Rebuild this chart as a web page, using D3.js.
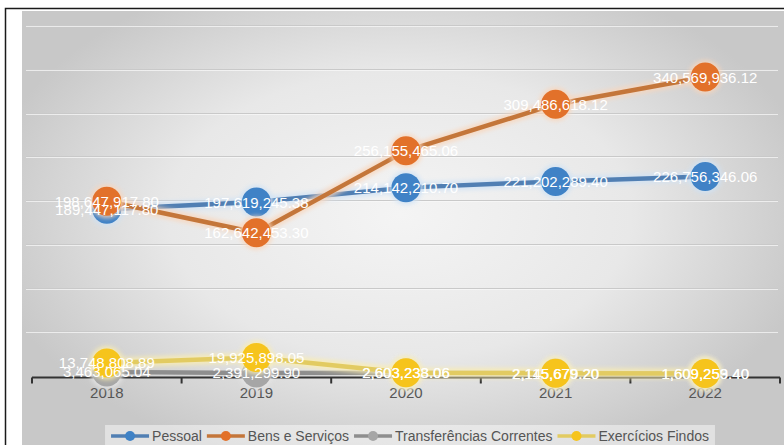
<!DOCTYPE html>
<html>
<head>
<meta charset="utf-8">
<script src="https://cdn.jsdelivr.net/npm/d3@7/dist/d3.min.js"></script>
<style>
  html, body { margin: 0; padding: 0; background: #ffffff; }
  svg { display: block; }
</style>
</head>
<body>
<svg id="chart" width="784" height="445"></svg>
<script>
// Expenditure by category, 2018–2022
const years = ["2018", "2019", "2020", "2021", "2022"];
const pessoal = [189447117.80, 197619245.38, 214142210.70, 221202289.40, 226756346.06];
const bensServicos = [198647917.80, 162642453.30, 256155465.06, 309486618.12, 340569936.12];
const transferencias = [3463065.04, 2391299.90, 2603238.06, 2145679.20, 1609253.40];
const exercicios = [13748808.89, 19925898.05, 2603233.06, 2115679.20, 1609259.40];
const seriesNames = ["Pessoal", "Bens e Serviços", "Transferências Correntes", "Exercícios Findos"];
const gridValues = [50e6, 100e6, 150e6, 200e6, 250e6, 300e6, 350e6, 400e6];

const series = [
  { name: seriesNames[0], values: pessoal,        marker: "#3f82c6", line: "#517fb3", glow: "#cfe2f5" },
  { name: seriesNames[1], values: bensServicos,   marker: "#e2712a", line: "#c4763a", glow: "#f9d6bb" },
  { name: seriesNames[2], values: transferencias, marker: "#a6a6a6", line: "#8e8e8e", glow: "#e6e6e6" },
  { name: seriesNames[3], values: exercicios,     marker: "#f6c41c", line: "#e2cb62", glow: "#fbeeb0" }
];

const svg = d3.select("#chart");
const W = 784, H = 445;
const fmt = d3.format(",.2f");

const x = d3.scaleBand().domain(years).range([32, 780]);
const cx = d => x(d) + x.bandwidth() / 2;
const y = d3.scaleLinear().domain([0, 400e6]).range([375, 25]);

const defs = svg.append("defs");
const bg = defs.append("radialGradient")
  .attr("id", "bgGrad")
  .attr("gradientUnits", "userSpaceOnUse")
  .attr("cx", 400).attr("cy", 215).attr("r", 420)
  .attr("gradientTransform", "translate(400,215) scale(1,0.62) translate(-400,-215)");
bg.append("stop").attr("offset", "0%").attr("stop-color", "#f4f4f4");
bg.append("stop").attr("offset", "55%").attr("stop-color", "#e8e8e8");
bg.append("stop").attr("offset", "100%").attr("stop-color", "#c8c8c8");

const glow = defs.append("filter").attr("id", "glow")
  .attr("x", "-20%").attr("y", "-50%").attr("width", "140%").attr("height", "200%");
glow.append("feGaussianBlur").attr("stdDeviation", 2.2);

const soft = defs.append("filter").attr("id", "soft")
  .attr("x", "-10%").attr("y", "-10%").attr("width", "120%").attr("height", "120%");
soft.append("feGaussianBlur").attr("stdDeviation", 0.5);

// chart frame and shaded background
svg.append("rect").attr("x", 0).attr("y", 0).attr("width", W).attr("height", H).attr("fill", "#ffffff");
svg.append("rect").attr("x", 22).attr("y", 11).attr("width", W - 22).attr("height", H - 11)
  .attr("fill", "url(#bgGrad)");
svg.append("path")
  .attr("d", `M5.5,${H}V8.5H${W}`)
  .attr("fill", "none").attr("stroke", "#1a1a1a").attr("stroke-width", 1.5);

// gridlines
const grid = svg.append("g");
grid.selectAll("line.g").data(gridValues).join("line")
  .attr("class", "g")
  .attr("x1", 26).attr("x2", 778)
  .attr("y1", d => Math.round(y(d)) + 0.5).attr("y2", d => Math.round(y(d)) + 0.5)
  .attr("stroke", "#c9c9c9").attr("stroke-width", 1);
grid.selectAll("line.h").data(gridValues).join("line")
  .attr("class", "h")
  .attr("x1", 26).attr("x2", 778)
  .attr("y1", d => Math.round(y(d)) + 1.5).attr("y2", d => Math.round(y(d)) + 1.5)
  .attr("stroke", "#fafafa").attr("stroke-opacity", 0.7).attr("stroke-width", 1);

// category axis: line with ticks between categories
const axisY = Math.round(y(0)) + 2.5;
const bounds = years.map(d => x(d)).concat([x.range()[1]]);
const axisG = svg.append("g");
axisG.append("line")
  .attr("x1", bounds[0]).attr("x2", bounds[bounds.length - 1])
  .attr("y1", axisY).attr("y2", axisY)
  .attr("stroke", "#333333").attr("stroke-width", 2);
axisG.selectAll("line.tick").data(bounds).join("line")
  .attr("class", "tick")
  .attr("x1", d => d).attr("x2", d => d)
  .attr("y1", axisY).attr("y2", axisY + 6)
  .attr("stroke", "#333333").attr("stroke-width", 2);

const xAxis = svg.append("g")
  .attr("transform", `translate(0,${axisY + 6})`)
  .call(d3.axisBottom(x).tickSize(0).tickPadding(4));
xAxis.select(".domain").remove();
xAxis.selectAll("text")
  .attr("font-family", "'Liberation Sans', Arial, sans-serif")
  .attr("font-size", 15)
  .attr("fill", "#555555");

// series lines and markers
const line = d3.line().x((v, i) => cx(years[i])).y(v => y(v));
const plot = svg.append("g");
series.forEach(s => {
  const g = plot.append("g");
  g.append("path").attr("d", line(s.values))
    .attr("fill", "none").attr("stroke", s.glow).attr("stroke-width", 10)
    .attr("stroke-opacity", 0.8).attr("filter", "url(#glow)");
  g.append("path").attr("d", line(s.values))
    .attr("fill", "none").attr("stroke", s.line).attr("stroke-width", 4.5)
    .attr("stroke-linejoin", "round");
  g.selectAll("circle.halo").data(s.values).join("circle")
    .attr("class", "halo")
    .attr("cx", (v, i) => cx(years[i])).attr("cy", v => y(v))
    .attr("r", 17).attr("fill", s.glow).attr("opacity", 0.8).attr("filter", "url(#glow)");
  g.selectAll("circle.m").data(s.values).join("circle")
    .attr("class", "m")
    .attr("cx", (v, i) => cx(years[i])).attr("cy", v => y(v))
    .attr("r", 14.5).attr("fill", s.marker).attr("filter", "url(#soft)");
});

// value labels centred on each marker
const labels = svg.append("g");
series.forEach(s => {
  labels.selectAll(null).data(s.values).join("text")
    .attr("x", (v, i) => cx(years[i])).attr("y", v => y(v))
    .attr("text-anchor", "middle").attr("dominant-baseline", "central")
    .attr("font-family", "'Liberation Sans', Arial, sans-serif")
    .attr("font-size", 15)
    .attr("fill", "#ffffff")
    .text(v => fmt(v));
});

// legend
const legend = svg.append("g");
const lgFont = "'Liberation Sans', Arial, sans-serif";
const lgSize = 14;
const sym = 38, gapA = 3, gapB = 5;
const widths = seriesNames.map(n => {
  const t = legend.append("text").attr("font-family", lgFont).attr("font-size", lgSize).text(n);
  const w = t.node().getComputedTextLength();
  t.remove();
  return w;
});
const total = d3.sum(widths) + series.length * (sym + gapA) + (series.length - 1) * gapB;
const lgCenter = 410, lgY = 436;
let lx = lgCenter - total / 2;
legend.append("rect")
  .attr("x", lx - 6).attr("y", lgY - 11).attr("width", total + 12).attr("height", 22)
  .attr("fill", "#ffffff").attr("fill-opacity", 0.45);
series.forEach((s, i) => {
  legend.append("line")
    .attr("x1", lx).attr("x2", lx + sym).attr("y1", lgY).attr("y2", lgY)
    .attr("stroke", s.line).attr("stroke-width", 3.5);
  legend.append("circle")
    .attr("cx", lx + sym / 2).attr("cy", lgY).attr("r", 5)
    .attr("fill", s.marker);
  legend.append("text")
    .attr("x", lx + sym + gapA).attr("y", lgY)
    .attr("dominant-baseline", "central")
    .attr("font-family", lgFont).attr("font-size", lgSize)
    .attr("fill", "#555555")
    .text(s.name);
  lx += sym + gapA + widths[i] + gapB;
});
</script>
</body>
</html>
